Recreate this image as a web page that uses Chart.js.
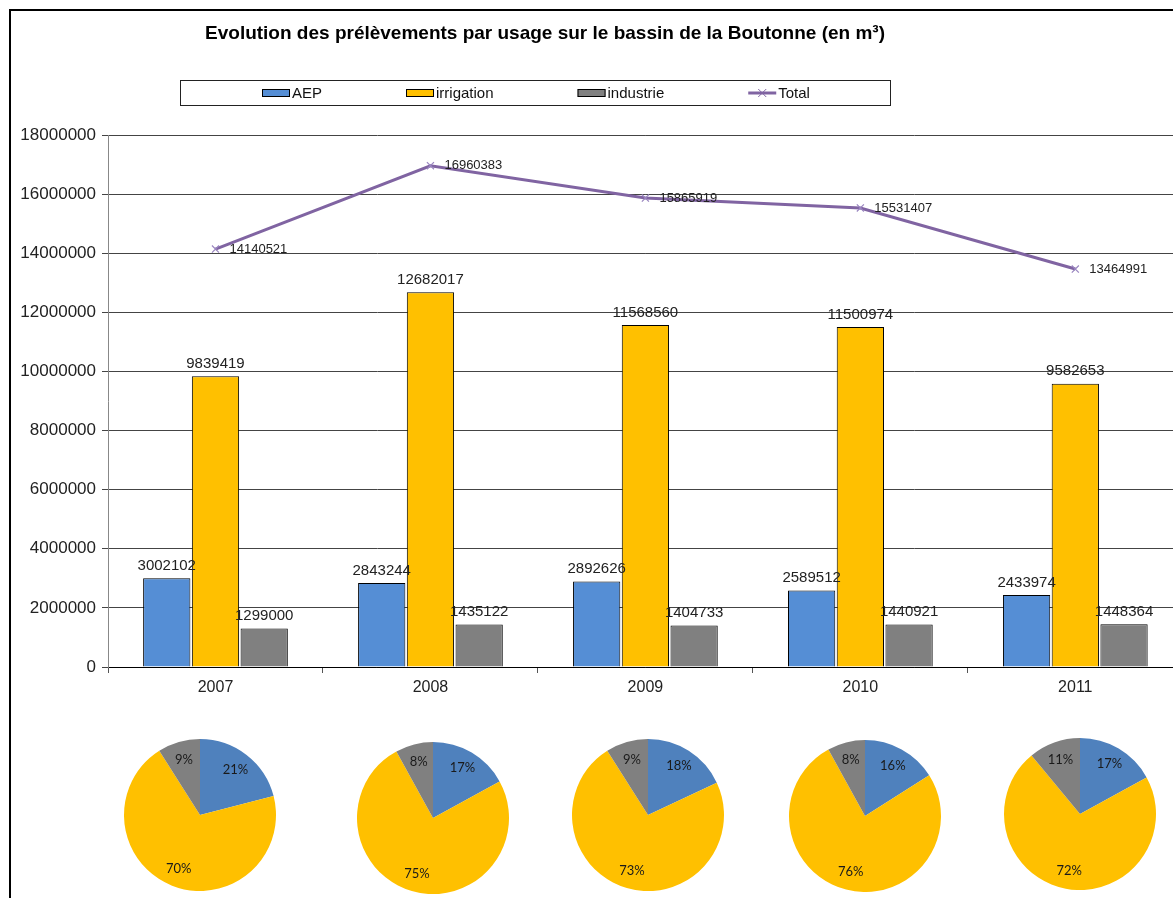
<!DOCTYPE html>
<html><head><meta charset="utf-8">
<script src="https://cdn.jsdelivr.net/npm/chart.js@4.4.1/dist/chart.umd.min.js"></script>
<style>
html,body{margin:0;padding:0;background:#fff;overflow:hidden;width:1173px;height:898px;}
#frame{position:absolute;left:9px;top:9px;width:1200px;height:1000px;border-left:2px solid #000;border-top:2px solid #000;}
#main{position:absolute;left:0;top:0;width:1189px;height:710px;}
.pie{position:absolute;width:152px;height:152px;}
</style></head><body>
<div id="frame"></div>
<div id="main"><canvas id="c"></canvas></div>
<script>
// ---- data ----
const categories = ['2007', '2008', '2009', '2010', '2011'];
const aep = [3002102, 2843244, 2892626, 2589512, 2433974];
const irrigation = [9839419, 12682017, 11568560, 11500974, 9582653];
const industrie = [1299000, 1435122, 1404733, 1440921, 1448364];
const total = [14140521, 16960383, 15865919, 15531407, 13464991];
const yMin = 0, yMax = 18000000, yStep = 2000000;
// pie shares (%) as printed on the pies
const pieAEP = [21, 17, 18, 16, 17];
const pieIrrigation = [70, 75, 73, 76, 72];
const pieIndustrie = [9, 8, 9, 8, 11];
const seriesNames = ['AEP', 'irrigation', 'industrie', 'Total'];
const titleText = 'Evolution des prélèvements par usage sur le bassin de la Boutonne (en m³)';

// ---- styles / layout ----
const FONT = '"Liberation Sans", Arial, sans-serif';
const barColors = ['#558ED5', '#FFC000', '#808080'];
const pieColors = ['#4F81BD', '#FFC000', '#808080'];
const lineColor = '#8064A2';
const pieCenters = [[200, 815], [433, 818], [648, 815], [865, 816], [1080, 814]];
const pieRadius = 76;

const headerPlugin = {
  id: 'header',
  afterDraw(chart) {
    const ctx = chart.ctx;
    ctx.save();
    ctx.fillStyle = '#000';
    ctx.textAlign = 'center';
    ctx.textBaseline = 'middle';
    ctx.font = 'bold 19px ' + FONT;
    ctx.fillText(titleText, 545, 34);
    // legend
    ctx.strokeStyle = '#222';
    ctx.lineWidth = 1;
    ctx.strokeRect(180.5, 80.5, 710, 25);
    ctx.font = '15px ' + FONT;
    ctx.textAlign = 'left';
    let x = 262; const y = 93;
    chart.data.datasets.forEach(ds => {
      if (ds.type === 'line') {
        ctx.strokeStyle = ds.borderColor; ctx.lineWidth = 3;
        ctx.beginPath(); ctx.moveTo(x, y); ctx.lineTo(x + 28, y); ctx.stroke();
        ctx.lineWidth = 1;
        ctx.beginPath();
        ctx.moveTo(x + 10, y - 4); ctx.lineTo(x + 18, y + 4);
        ctx.moveTo(x + 18, y - 4); ctx.lineTo(x + 10, y + 4);
        ctx.stroke();
      } else {
        ctx.fillStyle = ds.backgroundColor;
        ctx.fillRect(x, y - 4, 28, 8);
        ctx.strokeStyle = '#000'; ctx.lineWidth = 1;
        ctx.strokeRect(x + 0.5, y - 3.5, 27, 7);
      }
      ctx.fillStyle = '#111';
      ctx.fillText(ds.label, x + 30, y + 1);
      x += 30 + ctx.measureText(ds.label).width + 84;
    });
    ctx.restore();
  }
};

const valueLabels = {
  id: 'valueLabels',
  afterDatasetsDraw(chart) {
    const ctx = chart.ctx;
    ctx.save();
    ctx.fillStyle = '#222';
    chart.data.datasets.forEach((ds, i) => {
      const meta = chart.getDatasetMeta(i);
      meta.data.forEach((el, j) => {
        const v = String(ds.data[j]);
        if (ds.type === 'line') {
          ctx.font = '13px ' + FONT;
          ctx.textAlign = 'left'; ctx.textBaseline = 'middle';
          ctx.fillText(v, el.x + 14, el.y);
        } else {
          ctx.font = '15px ' + FONT;
          ctx.textAlign = 'center'; ctx.textBaseline = 'bottom';
          ctx.fillText(v, el.x, el.y - 5);
        }
      });
    });
    ctx.restore();
  }
};

new Chart(document.getElementById('c'), {
  type: 'bar',
  data: {
    labels: categories,
    datasets: [
      { type: 'bar', label: seriesNames[0], data: aep, backgroundColor: barColors[0], borderColor: '#000', borderWidth: 1, order: 1 },
      { type: 'bar', label: seriesNames[1], data: irrigation, backgroundColor: barColors[1], borderColor: '#000', borderWidth: 1, order: 1 },
      { type: 'bar', label: seriesNames[2], data: industrie, backgroundColor: barColors[2], borderColor: '#000', borderWidth: 1, order: 1 },
      { type: 'line', label: seriesNames[3], data: total, borderColor: lineColor, borderWidth: 3, tension: 0,
        pointStyle: 'crossRot', pointRadius: 5, pointBorderColor: '#9A86C0', pointBorderWidth: 1.2, pointBackgroundColor: lineColor, order: 0 }
    ]
  },
  options: {
    responsive: true, maintainAspectRatio: false, animation: false,
    datasets: { bar: { barPercentage: 0.97, categoryPercentage: 0.68 } },
    layout: { padding: { left: 0, top: 135, right: 0, bottom: 13 } },
    plugins: { legend: { display: false }, title: { display: false }, tooltip: { enabled: false } },
    scales: {
      x: {
        grid: { offset: true, drawOnChartArea: false, color: '#555', tickLength: 6 },
        border: { color: '#000', width: 1 },
        ticks: { font: { family: FONT, size: 16 }, color: '#222', padding: 5 },
        afterFit(s) { s.height = 30; }
      },
      y: {
        min: yMin, max: yMax,
        grid: { color: '#444', lineWidth: 1, tickLength: 6 },
        border: { color: '#888', width: 1 },
        ticks: { stepSize: yStep, font: { family: FONT, size: 17 }, color: '#222', padding: 6,
                 callback: v => String(v) },
        afterFit(s) { s.width = 108; }
      }
    }
  },
  plugins: [headerPlugin, valueLabels]
});

const pieLabels = {
  id: 'pieLabels',
  afterDatasetsDraw(chart) {
    const ctx = chart.ctx;
    ctx.save();
    ctx.font = '13px Lato, "Open Sans", sans-serif';
    ctx.fillStyle = '#1a1a1a';
    ctx.textAlign = 'center'; ctx.textBaseline = 'middle';
    const ds = chart.data.datasets[0];
    chart.getDatasetMeta(0).data.forEach((arc, j) => {
      const mid = (arc.startAngle + arc.endAngle) / 2;
      const r = arc.outerRadius * 0.76;
      ctx.fillText(ds.data[j] + '%', arc.x + Math.cos(mid) * r, arc.y + Math.sin(mid) * r);
    });
    ctx.restore();
  }
};

categories.forEach((cat, i) => {
  const div = document.createElement('div');
  div.className = 'pie';
  div.style.left = (pieCenters[i][0] - pieRadius) + 'px';
  div.style.top = (pieCenters[i][1] - pieRadius) + 'px';
  const cv = document.createElement('canvas');
  div.appendChild(cv);
  document.body.appendChild(div);
  new Chart(cv, {
    type: 'pie',
    data: {
      labels: seriesNames.slice(0, 3),
      datasets: [{ data: [pieAEP[i], pieIrrigation[i], pieIndustrie[i]], backgroundColor: pieColors, borderWidth: 0 }]
    },
    options: {
      responsive: true, maintainAspectRatio: false, animation: false,
      layout: { padding: 0 },
      plugins: { legend: { display: false }, tooltip: { enabled: false }, title: { display: false } }
    },
    plugins: [pieLabels]
  });
});
</script>
</body></html>
